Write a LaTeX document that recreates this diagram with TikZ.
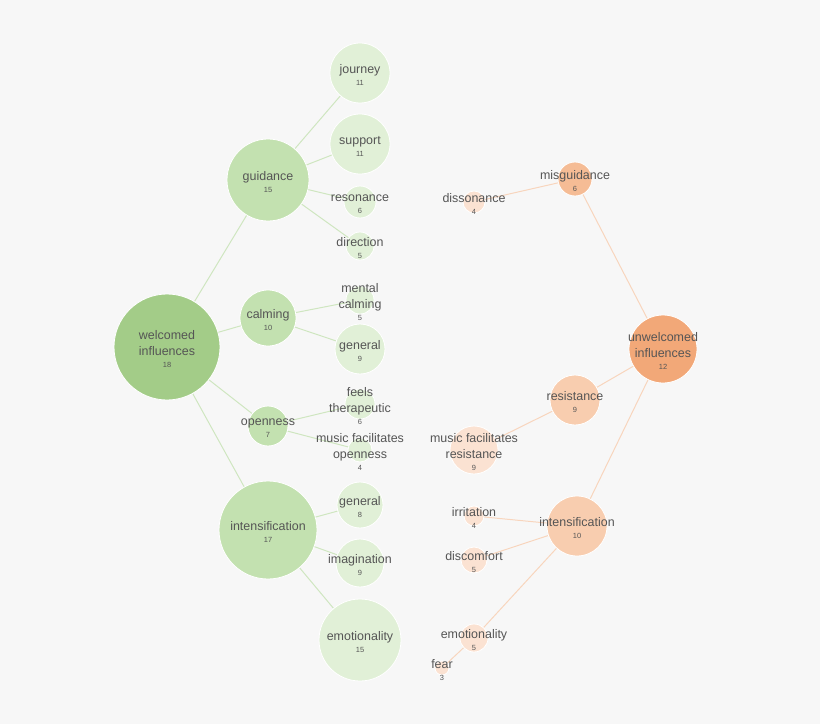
\documentclass[tikz,border=0pt]{standalone}
\usepackage{fontspec}
\setmainfont{Liberation Sans}
\definecolor{bg}{HTML}{F7F7F7}
\definecolor{gA}{HTML}{A3CC88}
\definecolor{gB}{HTML}{C3E1B0}
\definecolor{gC}{HTML}{E1F0D7}
\definecolor{oA}{HTML}{F2A878}
\definecolor{oB}{HTML}{F5BC95}
\definecolor{oC}{HTML}{F8CDAF}
\definecolor{oD}{HTML}{FBE2D2}
\definecolor{gE}{HTML}{CFE6C0}
\definecolor{oE}{HTML}{F8D5BD}
\definecolor{txt}{HTML}{555555}
\tikzset{bubble/.style={circle,inner sep=0pt,draw=white,line width=0.8pt},
  lbl/.style={text=txt,align=center,font=\fontsize{12.5}{16}\selectfont,inner sep=0pt},
  gedge/.style={draw=gE,line width=1pt},
  oedge/.style={draw=oE,line width=1pt}}
\newcommand\bub[7]{\node[bubble,fill=#5,minimum size=#4*2bp] (#1) at (#2,#3) {};
  \node[lbl] (#1t) at (#2,#3+2) {#6\\[-4pt]{\fontsize{7.5}{7.5}\selectfont #7}};}
\begin{document}
\begin{tikzpicture}[x=1bp,y=-1bp]
\fill[bg] (0,0) rectangle (820,724);
\useasboundingbox (0,0) rectangle (820,724);
\path (167,347) coordinate (pw) (268,180) coordinate (pg) (268,318) coordinate (pc) (268,426) coordinate (po) (268,530) coordinate (pi)
 (663,349) coordinate (pu) (575,179) coordinate (pm) (575,400) coordinate (pr) (577,526) coordinate (pj) (474,638) coordinate (pe);
\draw[gedge] (pw)--(pg) (pw)--(pc) (pw)--(po) (pw)--(pi);
\draw[gedge] (pg)--(360,73) (pg)--(360,144) (pg)--(360,202) (pg)--(360,246)
 (pc)--(360,300) (pc)--(360,349) (po)--(360,404) (po)--(360,450)
 (pi)--(360,505) (pi)--(360,563) (pi)--(360,640);
\draw[oedge] (pu)--(pm) (pu)--(pr) (pu)--(pj) (pm)--(474,202) (pr)--(474,450)
 (pj)--(474,516) (pj)--(474,560) (pj)--(pe) (pe)--(442,668);
\bub{w}{167}{347}{53}{gA}{welcomed\\influences}{18}
\bub{g}{268}{180}{41}{gB}{guidance}{15}
\bub{c}{268}{318}{28}{gB}{calming}{10}
\bub{o}{268}{426}{20}{gB}{openness}{7}
\bub{i}{268}{530}{49}{gB}{intensification}{17}
\bub{l1}{360}{73}{30}{gC}{journey}{11}
\bub{l2}{360}{144}{30}{gC}{support}{11}
\bub{l3}{360}{202}{16}{gC}{resonance}{6}
\bub{l4}{360}{246}{14}{gC}{direction}{5}
\bub{l5}{360}{300}{14}{gC}{mental\\calming}{5}
\bub{l6}{360}{349}{25}{gC}{general}{9}
\bub{l7}{360}{404}{15}{gC}{feels\\therapeutic}{6}
\bub{l8}{360}{450}{12}{gC}{music facilitates\\openness}{4}
\bub{l9}{360}{505}{23}{gC}{general}{8}
\bub{l10}{360}{563}{24}{gC}{imagination}{9}
\bub{l11}{360}{640}{41}{gC}{emotionality}{15}
\bub{u}{663}{349}{34}{oA}{unwelcomed\\influences}{12}
\bub{m}{575}{179}{17}{oB}{misguidance}{6}
\bub{r}{575}{400}{25}{oC}{resistance}{9}
\bub{j}{577}{526}{30}{oC}{intensification}{10}
\bub{d}{474}{202}{11}{oD}{dissonance}{4}
\bub{mr}{474}{450}{24}{oD}{music facilitates\\resistance}{9}
\bub{ir}{474}{516}{10}{oD}{irritation}{4}
\bub{dc}{474}{560}{13}{oD}{discomfort}{5}
\bub{e}{474}{638}{14}{oD}{emotionality}{5}
\bub{f}{442}{668}{7}{oD}{fear}{3}
\end{tikzpicture}
\end{document}
